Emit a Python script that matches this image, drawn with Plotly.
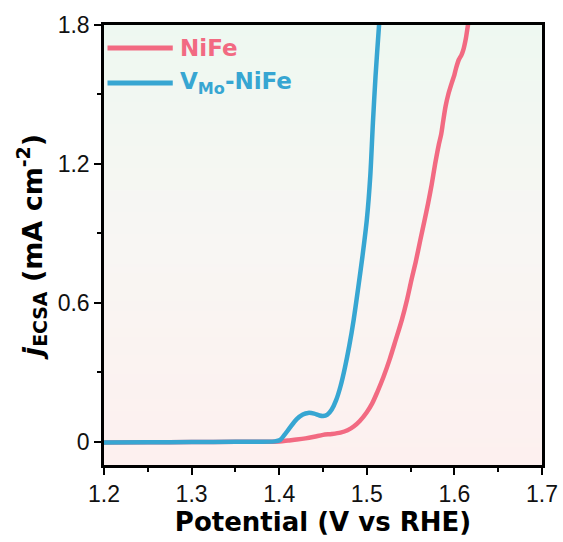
import plotly.graph_objects as go

# Polarization curves normalised by ECSA
v_vmo = [1.200, 1.250, 1.300, 1.350, 1.395, 1.401, 1.406, 1.412, 1.420, 1.427,
         1.433, 1.440, 1.446, 1.450, 1.455, 1.460, 1.465, 1.470, 1.475, 1.480,
         1.485, 1.490, 1.495, 1.500, 1.504, 1.507, 1.510, 1.514, 1.516]
j_vmo = [-0.003, -0.002, -0.001, 0.000, 0.002, 0.008, 0.030, 0.060, 0.098, 0.118,
         0.125, 0.122, 0.114, 0.112, 0.118, 0.140, 0.180, 0.240, 0.320, 0.415,
         0.527, 0.660, 0.800, 0.958, 1.150, 1.380, 1.580, 1.800, 1.900]

v_nife = [1.200, 1.250, 1.300, 1.350, 1.400, 1.410, 1.420, 1.430, 1.440, 1.450,
          1.460, 1.470, 1.478, 1.485, 1.492, 1.500, 1.506, 1.512, 1.519, 1.526,
          1.533, 1.540, 1.546, 1.551, 1.556, 1.561, 1.566, 1.570, 1.574, 1.578,
          1.582, 1.585, 1.587, 1.590, 1.593, 1.597, 1.600, 1.602, 1.605, 1.608,
          1.610, 1.613, 1.6155, 1.618]
j_nife = [-0.003, -0.002, -0.001, 0.000, 0.002, 0.006, 0.010, 0.015, 0.022, 0.030,
          0.034, 0.040, 0.050, 0.066, 0.090, 0.128, 0.165, 0.215, 0.280, 0.355,
          0.440, 0.527, 0.615, 0.700, 0.780, 0.870, 0.958, 1.030, 1.110, 1.200,
          1.280, 1.330, 1.380, 1.450, 1.500, 1.550, 1.585, 1.615, 1.650, 1.670,
          1.690, 1.740, 1.800, 1.850]

names = ["NiFe", "V<sub>Mo</sub>-NiFe"]
colors = ["#F26A82", "#37A6D2"]

x_range = [1.2, 1.7]
y_range = [-0.1, 1.8]
x_ticks = [1.2, 1.3, 1.4, 1.5, 1.6, 1.7]
y_ticks = [0, 0.6, 1.2, 1.8]
y_tick_text = ["0", "0.6", "1.2", "1.8"]

TICK_FONT = "Arial, 'Liberation Sans', sans-serif"
TITLE_FONT = "'DejaVu Sans', Arial, sans-serif"

fig = go.Figure()

# soft vertical gradient behind the curves
fig.add_trace(go.Heatmap(
    x=x_range, y=y_range, z=[[0, 0], [1, 1]],
    colorscale=[[0, "#FDF0EF"], [0.5, "#F8F6F3"], [1, "#EEF8F1"]],
    zsmooth="best", showscale=False, hoverinfo="skip",
))

fig.add_trace(go.Scatter(x=v_nife, y=j_nife, mode="lines",
                         line=dict(color=colors[0], width=4.5, shape="spline", smoothing=0.8),
                         showlegend=False))
fig.add_trace(go.Scatter(x=v_vmo, y=j_vmo, mode="lines",
                         line=dict(color=colors[1], width=4.5, shape="spline", smoothing=0.8),
                         showlegend=False))

# hand-drawn legend
legend_y = [0.948, 0.868]
for name, col, ly in zip(names, colors, legend_y):
    fig.add_shape(type="line", xref="paper", yref="paper",
                  x0=0.008, x1=0.157, y0=ly, y1=ly,
                  line=dict(color=col, width=5))
    fig.add_annotation(xref="paper", yref="paper", x=0.170, y=ly,
                       xanchor="left", yanchor="middle", showarrow=False,
                       text=f"<b>{name}</b>",
                       font=dict(family=TITLE_FONT, size=23, color=col))

fig.update_xaxes(
    range=x_range, tickvals=x_ticks, ticktext=[f"{t:.1f}" for t in x_ticks],
    ticks="outside", ticklen=7, tickwidth=2, tickcolor="black",
    minor=dict(dtick=0.05, tick0=1.2, ticks="outside", ticklen=4, tickwidth=2, tickcolor="black"),
    showline=True, linecolor="black", linewidth=2.5, mirror=True,
    showgrid=False, zeroline=False, automargin=False,
    tickfont=dict(family=TICK_FONT, size=23, color="#111"),
    title=dict(text="<b>Potential (V vs RHE)</b>",
               font=dict(family=TITLE_FONT, size=26, color="black"), standoff=6),
)
fig.update_yaxes(
    range=y_range, tickvals=y_ticks, ticktext=y_tick_text,
    ticks="outside", ticklen=7, tickwidth=2, tickcolor="black",
    minor=dict(dtick=0.3, tick0=0, ticks="outside", ticklen=4, tickwidth=2, tickcolor="black"),
    showline=True, linecolor="black", linewidth=2.5, mirror=True,
    showgrid=False, zeroline=False, automargin=False,
    tickfont=dict(family=TICK_FONT, size=23, color="#111"),
    title=dict(text="<b><i>j</i><sub>ECSA</sub> (mA cm<sup>-2</sup>)</b>",
               font=dict(family=TITLE_FONT, size=27, color="black"), standoff=8),
)

fig.update_layout(
    width=563, height=542,
    margin=dict(l=104, r=21, t=25, b=77, autoexpand=False),
    paper_bgcolor="white", plot_bgcolor="white",
    showlegend=False,
)

fig.write_html("out.html")
